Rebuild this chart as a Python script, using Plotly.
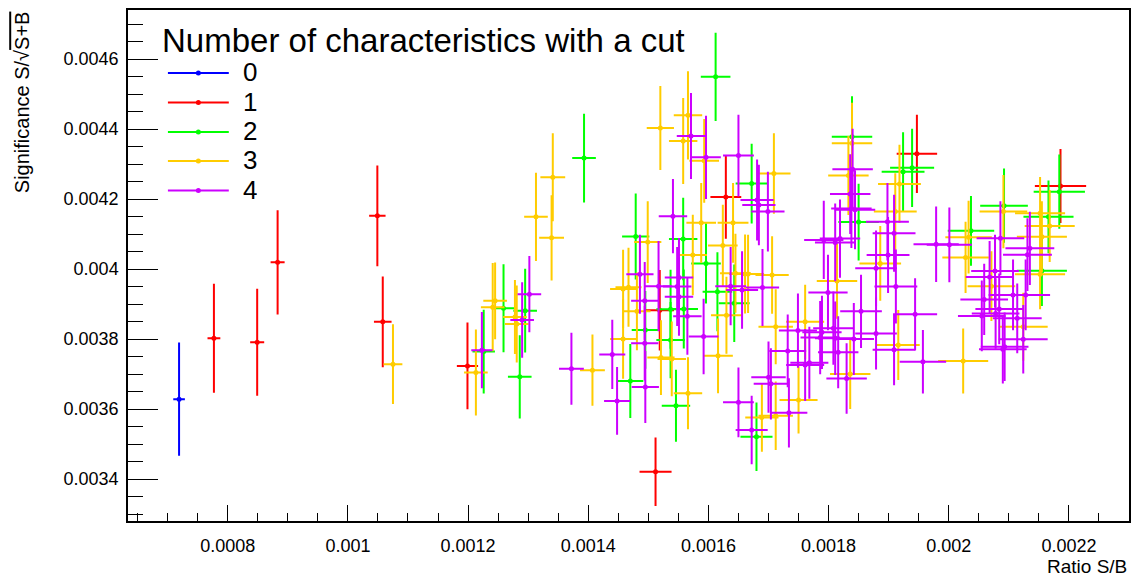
import plotly.graph_objects as go

# ---------------- data ----------------
series_names = ["0", "1", "2", "3", "4"]
series_colors = ["#0000ff", "#ff0000", "#00ff00", "#ffcc00", "#cc00ff"]

x0 = [0.000719]
y0 = [0.003628]
ex0 = [0.8e-5]
ey0 = [1.59e-4]

x1 = [0.000777, 0.000849, 0.000883, 0.001049, 0.001058, 0.001199, 0.001512, 0.001519, 0.001629, 0.001947, 0.002186]
y1 = [0.003802, 0.003791, 0.004019, 0.004152, 0.003849, 0.003723, 0.003421, 0.003882, 0.004206, 0.004329, 0.004237]
ex1 = [0.9e-5, 1.0e-5, 1.0e-5, 1.2e-5, 1.3e-5, 1.6e-5, 2.5e-5, 2.2e-5, 2.4e-5, 3.2e-5, 4.1e-5]
ey1 = [1.53e-4, 1.50e-4, 1.46e-4, 1.41e-4, 1.27e-4, 1.21e-4, 0.95e-4, 1.12e-4, 1.17e-4, 1.09e-4, 1.03e-4]

x2 = [0.001226, 0.001259, 0.001286, 0.001295, 0.001393, 0.001470, 0.001479, 0.001495, 0.001537, 0.001537,
      0.001546, 0.001558, 0.001559, 0.001596, 0.001612, 0.001615, 0.001643, 0.001672, 0.001680, 0.001839,
      0.001850, 0.001924, 0.001939, 0.002037, 0.002092, 0.002155, 0.002166, 0.002184]
y2 = [0.003764, 0.003888, 0.003692, 0.003881, 0.004317, 0.003680, 0.004093, 0.003826, 0.003885, 0.003797,
      0.003609, 0.004086, 0.003886, 0.004016, 0.004549, 0.003935, 0.003902, 0.004244, 0.003521, 0.004378,
      0.004134, 0.004278, 0.004289, 0.004109, 0.004181, 0.003995, 0.004149, 0.004221]
ex2 = [1.7e-5, 1.8e-5, 1.8e-5, 1.8e-5, 1.8e-5, 2.0e-5, 2.1e-5, 2.1e-5, 2.2e-5, 2.2e-5,
       2.2e-5, 2.2e-5, 2.2e-5, 2.3e-5, 2.3e-5, 2.3e-5, 2.4e-5, 2.5e-5, 2.5e-5, 3.2e-5,
       3.2e-5, 3.4e-5, 3.5e-5, 3.7e-5, 3.8e-5, 4.0e-5, 4.0e-5, 4.1e-5]
ey2 = [1.17e-4, 1.23e-4, 1.16e-4, 1.17e-4, 1.24e-4, 1.03e-4, 1.20e-4, 1.08e-4, 1.10e-4, 1.06e-4,
       1.00e-4, 1.15e-4, 1.10e-4, 1.12e-4, 1.23e-4, 1.10e-4, 1.08e-4, 1.11e-4, 0.95e-4, 1.13e-4,
       1.07e-4, 1.10e-4, 1.09e-4, 0.97e-4, 1.03e-4, 0.98e-4, 1.01e-4, 1.03e-4]

x3 = [0.001075, 0.001213, 0.001241, 0.001245, 0.001278, 0.001281, 0.001313, 0.001339, 0.001341, 0.001407,
      0.001458, 0.001458, 0.001467, 0.001481, 0.001499, 0.001520, 0.001521, 0.001539, 0.001558, 0.001566,
      0.001566, 0.001574, 0.001588, 0.001593, 0.001616, 0.001624, 0.001630, 0.001641, 0.001645, 0.001661,
      0.001666, 0.001689, 0.001706, 0.001709, 0.001712, 0.001712, 0.001750, 0.001761, 0.001814, 0.001833,
      0.001836, 0.001839, 0.001886, 0.001911, 0.001916, 0.001918, 0.002024, 0.002028, 0.002033, 0.002071,
      0.002091, 0.002124, 0.002152, 0.002152, 0.002155, 0.002168]
y3 = [0.003728, 0.003704, 0.003891, 0.003909, 0.003863, 0.003843, 0.004149, 0.004089, 0.004262, 0.003711,
      0.003943, 0.003800, 0.003948, 0.003879, 0.004077, 0.004403, 0.003747, 0.003743, 0.004366, 0.004439,
      0.003645, 0.004040, 0.004132, 0.004309, 0.003752, 0.004067, 0.003868, 0.004132, 0.003988, 0.003986,
      0.003986, 0.003576, 0.003983, 0.004273, 0.003835, 0.003581, 0.003626, 0.003849, 0.003966, 0.004267,
      0.003700, 0.004359, 0.004016, 0.004164, 0.003783, 0.004243, 0.003737, 0.004033, 0.004091, 0.003951,
      0.004164, 0.003835, 0.004159, 0.003985, 0.004092, 0.004123]
ex3 = [1.4e-5, 1.8e-5, 1.8e-5, 1.8e-5, 1.8e-5, 1.8e-5, 1.8e-5, 1.9e-5, 1.9e-5, 1.9e-5,
       2.0e-5, 2.0e-5, 2.0e-5, 2.1e-5, 2.1e-5, 2.1e-5, 2.1e-5, 2.2e-5, 2.2e-5, 2.2e-5,
       2.2e-5, 2.2e-5, 2.3e-5, 2.3e-5, 2.3e-5, 2.3e-5, 2.4e-5, 2.4e-5, 2.4e-5, 2.5e-5,
       2.5e-5, 2.6e-5, 2.6e-5, 2.6e-5, 2.7e-5, 2.7e-5, 3.0e-5, 3.0e-5, 3.2e-5, 3.2e-5,
       3.2e-5, 3.2e-5, 3.3e-5, 3.4e-5, 3.4e-5, 3.4e-5, 4.0e-5, 3.7e-5, 3.7e-5, 3.8e-5,
       3.8e-5, 3.9e-5, 4.0e-5, 4.0e-5, 4.0e-5, 4.0e-5]
ey3 = [1.11e-4, 1.20e-4, 1.23e-4, 1.07e-4, 1.03e-4, 1.07e-4, 1.23e-4, 1.19e-4, 1.23e-4, 0.99e-4,
       1.09e-4, 1.11e-4, 1.10e-4, 1.08e-4, 1.14e-4, 1.17e-4, 1.04e-4, 1.04e-4, 1.20e-4, 1.23e-4,
       1.00e-4, 1.12e-4, 1.11e-4, 1.17e-4, 1.04e-4, 1.14e-4, 1.07e-4, 1.11e-4, 1.10e-4, 1.10e-4,
       1.09e-4, 0.95e-4, 1.08e-4, 1.12e-4, 1.04e-4, 0.95e-4, 0.93e-4, 1.03e-4, 1.05e-4, 1.10e-4,
       0.97e-4, 1.13e-4, 1.04e-4, 1.07e-4, 0.97e-4, 1.09e-4, 0.90e-4, 0.99e-4, 1.01e-4, 0.97e-4,
       1.02e-4, 0.94e-4, 1.01e-4, 0.97e-4, 0.99e-4, 1.00e-4]

x4 = [0.001223, 0.001290, 0.001302, 0.001372, 0.001440, 0.001448, 0.001486, 0.001494, 0.001494, 0.001495,
      0.001517, 0.001541, 0.001548, 0.001551, 0.001551, 0.001565, 0.001571, 0.001592, 0.001596, 0.001637,
      0.001650, 0.001650, 0.001656, 0.001672, 0.001681, 0.001684, 0.001690, 0.001699, 0.001700, 0.001704,
      0.001732, 0.001734, 0.001749, 0.001761, 0.001768, 0.001786, 0.001789, 0.001792, 0.001799, 0.001808,
      0.001811, 0.001811, 0.001816, 0.001819, 0.001830, 0.001836, 0.001838, 0.001840, 0.001842, 0.001844,
      0.001854, 0.001879, 0.001879, 0.001898, 0.001899, 0.001909, 0.001909, 0.001912, 0.001944, 0.001957,
      0.001979, 0.002001, 0.002055, 0.002059, 0.002068, 0.002077, 0.002078, 0.002084, 0.002086, 0.002090,
      0.002093, 0.002107, 0.002114, 0.002124, 0.002128, 0.002131, 0.002135]
y4 = [0.003768, 0.003854, 0.003928, 0.003715, 0.003756, 0.003623, 0.003985, 0.003909, 0.003788, 0.003663,
      0.003951, 0.004151, 0.003950, 0.003976, 0.003921, 0.003865, 0.004380, 0.003807, 0.004319, 0.003951,
      0.004324, 0.003619, 0.003940, 0.003540, 0.004197, 0.004183, 0.003947, 0.004164, 0.003691, 0.003672,
      0.003766, 0.003589, 0.003824, 0.003726, 0.003732, 0.003804, 0.003819, 0.004083, 0.003933, 0.003831,
      0.004076, 0.003802, 0.003762, 0.004087, 0.003687, 0.004214, 0.004173, 0.004285, 0.003800, 0.004169,
      0.003879, 0.004002, 0.003816, 0.004135, 0.004040, 0.004102, 0.003769, 0.003950, 0.003871, 0.003735,
      0.004071, 0.004069, 0.003866, 0.003913, 0.003977, 0.003994, 0.003873, 0.003886, 0.004088, 0.003771,
      0.003778, 0.003926, 0.003859, 0.003799, 0.003926, 0.004041, 0.004059]
ex4 = [1.6e-5, 1.8e-5, 1.8e-5, 1.9e-5, 2.0e-5, 2.0e-5, 2.1e-5, 2.1e-5, 2.1e-5, 2.1e-5,
       2.1e-5, 2.2e-5, 2.2e-5, 2.2e-5, 2.2e-5, 2.2e-5, 2.2e-5, 2.3e-5, 2.3e-5, 2.4e-5,
       2.4e-5, 2.4e-5, 2.5e-5, 2.5e-5, 2.6e-5, 2.6e-5, 2.6e-5, 2.6e-5, 2.7e-5, 2.7e-5,
       2.9e-5, 2.9e-5, 3.0e-5, 3.0e-5, 3.0e-5, 3.1e-5, 3.1e-5, 3.1e-5, 3.1e-5, 3.2e-5,
       3.2e-5, 3.2e-5, 3.2e-5, 3.2e-5, 3.2e-5, 3.2e-5, 3.2e-5, 3.2e-5, 3.2e-5, 3.2e-5,
       3.3e-5, 3.3e-5, 3.3e-5, 3.4e-5, 3.4e-5, 3.4e-5, 3.4e-5, 3.4e-5, 3.5e-5, 3.7e-5,
       3.6e-5, 3.6e-5, 3.8e-5, 3.8e-5, 3.8e-5, 3.8e-5, 3.8e-5, 3.8e-5, 3.8e-5, 3.8e-5,
       3.8e-5, 3.9e-5, 3.9e-5, 3.9e-5, 3.9e-5, 3.9e-5, 3.9e-5]
ey4 = [1.06e-4, 1.05e-4, 1.06e-4, 1.00e-4, 0.96e-4, 0.94e-4, 1.10e-4, 1.08e-4, 1.04e-4, 1.00e-4,
       1.26e-4, 1.03e-4, 1.10e-4, 1.10e-4, 1.09e-4, 1.07e-4, 1.20e-4, 1.05e-4, 1.16e-4, 1.09e-4,
       1.14e-4, 0.97e-4, 1.08e-4, 0.95e-4, 1.13e-4, 1.12e-4, 1.07e-4, 1.11e-4, 0.99e-4, 0.99e-4,
       1.01e-4, 0.96e-4, 1.03e-4, 1.00e-4, 1.00e-4, 1.02e-4, 1.02e-4, 1.09e-4, 1.05e-4, 1.02e-4,
       1.08e-4, 1.02e-4, 1.00e-4, 1.09e-4, 0.98e-4, 1.11e-4, 1.10e-4, 1.13e-4, 1.00e-4, 1.10e-4,
       1.02e-4, 1.05e-4, 1.00e-4, 1.08e-4, 1.06e-4, 1.07e-4, 0.98e-4, 1.03e-4, 1.00e-4, 0.88e-4,
       1.05e-4, 1.04e-4, 0.98e-4, 0.99e-4, 1.00e-4, 1.01e-4, 0.98e-4, 0.98e-4, 1.03e-4, 0.95e-4,
       0.95e-4, 0.98e-4, 0.97e-4, 0.95e-4, 0.98e-4, 1.01e-4, 1.02e-4]

x_tickvals = [0.0008, 0.0010, 0.0012, 0.0014, 0.0016, 0.0018, 0.0020, 0.0022]
x_ticktext = ["0.0008", "0.001", "0.0012", "0.0014", "0.0016", "0.0018", "0.002", "0.0022"]
y_tickvals = [0.0034, 0.0036, 0.0038, 0.0040, 0.0042, 0.0044, 0.0046]
y_ticktext = ["0.0034", "0.0036", "0.0038", "0.004", "0.0042", "0.0044", "0.0046"]

legend_title = "Number of characteristics with a cut"
x_title = "Ratio S/B"
y_title = "Significance S/\u221a<span style='text-decoration:overline'>S+B</span>"

# ---------------- figure ----------------
W, H = 1134, 576
L, R, T, B = 128, 1131, 10, 521
FONT = "Liberation Sans, Arial, Helvetica, sans-serif"


def px(x):
    return (x - L) / (R - L)


def py(y):
    return (B - y) / (B - T)


series = [(x0, y0, ex0, ey0), (x1, y1, ex1, ey1), (x2, y2, ex2, ey2),
          (x3, y3, ex3, ey3), (x4, y4, ex4, ey4)]

fig = go.Figure()
for (xs, ys, exs, eys), name, col in zip(series, series_names, series_colors):
    fig.add_trace(go.Scatter(
        x=xs, y=ys, mode="markers", name=name, showlegend=False,
        marker=dict(color=col, size=5, symbol="circle", line=dict(width=0)),
        error_x=dict(type="data", array=exs, symmetric=True, color=col, thickness=2, width=1),
        error_y=dict(type="data", array=eys, symmetric=True, color=col, thickness=2, width=1),
        hoverinfo="x+y",
    ))

shapes = []
annotations = []
legend_rows = [73, 102.5, 132, 161, 190.5]
for name, col, yr in zip(series_names, series_colors, legend_rows):
    shapes.append(dict(type="line", xref="paper", yref="paper",
                       x0=px(168), x1=px(229), y0=py(yr), y1=py(yr),
                       line=dict(color=col, width=2)))
    shapes.append(dict(type="circle", xref="paper", yref="paper",
                       xsizemode="pixel", ysizemode="pixel",
                       xanchor=px(198.5), yanchor=py(yr),
                       x0=-2.5, x1=2.5, y0=-2.5, y1=2.5,
                       fillcolor=col, line=dict(color=col, width=0)))
    annotations.append(dict(text=name, xref="paper", yref="paper",
                            x=px(242), y=py(yr - 1), xanchor="left", yanchor="middle",
                            height=24, valign="middle", borderpad=0,
                            showarrow=False, font=dict(family=FONT, size=26, color="black")))

annotations.append(dict(text=legend_title, xref="paper", yref="paper",
                        x=px(161), y=py(40), xanchor="left", yanchor="middle",
                        height=30, valign="middle", borderpad=0,
                        showarrow=False, font=dict(family=FONT, size=33, color="black")))
annotations.append(dict(text=x_title, xref="paper", yref="paper",
                        x=1.0, y=py(566), xanchor="right", yanchor="middle",
                        showarrow=False, font=dict(family=FONT, size=19, color="black")))
annotations.append(dict(text=y_title, xref="paper", yref="paper", textangle=-90,
                        x=px(22), y=py(9), xanchor="center", yanchor="top",
                        showarrow=False, font=dict(family=FONT, size=20, color="black")))

axis_common = dict(showgrid=False, zeroline=False, showline=True, linecolor="black",
                   linewidth=1.5, mirror=True, ticks="inside", tickcolor="black",
                   tickwidth=1, tickmode="array",
                   tickfont=dict(family=FONT, size=18, color="black"))

fig.update_layout(
    width=W, height=H,
    margin=dict(l=L, r=W - R, t=T, b=H - B, pad=0),
    paper_bgcolor="white", plot_bgcolor="white",
    shapes=shapes, annotations=annotations,
    xaxis=dict(range=[0.000634, 0.0023], tickvals=x_tickvals, ticktext=x_ticktext,
               ticklen=16, ticklabelstandoff=8,
               minor=dict(ticks="inside", ticklen=8, tickcolor="black", tickwidth=1,
                          tickmode="linear", tick0=0, dtick=0.00005),
               **axis_common),
    yaxis=dict(range=[0.00328, 0.00474], tickvals=y_tickvals, ticktext=y_ticktext,
               ticklen=30, ticklabelstandoff=4,
               minor=dict(ticks="inside", ticklen=15, tickcolor="black", tickwidth=1,
                          tickmode="linear", tick0=0, dtick=0.00005),
               **axis_common),
)

fig.write_html("out.html")
